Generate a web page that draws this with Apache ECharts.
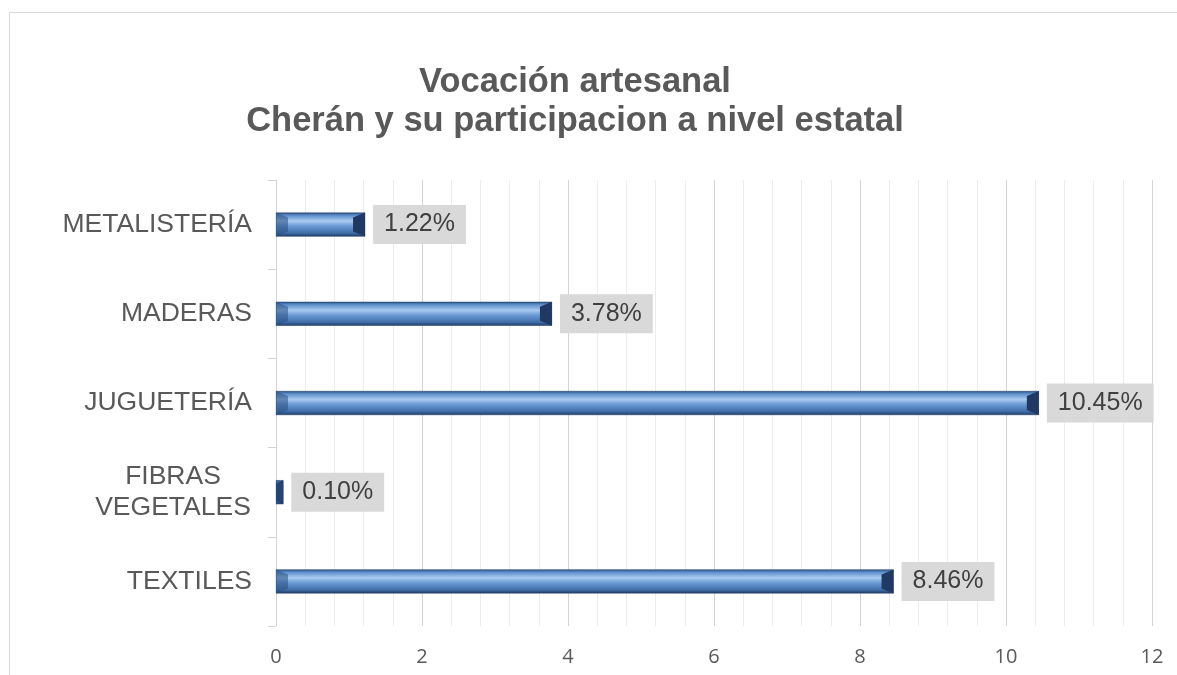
<!DOCTYPE html>
<html>
<head>
<meta charset="utf-8">
<script src="https://cdn.jsdelivr.net/npm/echarts@6/dist/echarts.min.js"></script>
<style>
  html, body { margin: 0; padding: 0; background: #fff; }
  #chart { width: 1177px; height: 675px; }
</style>
</head>
<body>
<div id="chart"></div>
<script>
// datos
var categories = ['TEXTILES', 'FIBRAS\nVEGETALES', 'JUGUETERÍA', 'MADERAS', 'METALISTERÍA'];
var values = [8.46, 0.10, 10.45, 3.78, 1.22];
var xTicks = [0, 2, 4, 6, 8, 10, 12];

var chart = echarts.init(document.getElementById('chart'));

var barFill = new echarts.graphic.LinearGradient(0, 0, 0, 1, [
  { offset: 0, color: '#2c5284' },
  { offset: 0.12, color: '#5f8fcb' },
  { offset: 0.35, color: '#a9cbf0' },
  { offset: 0.55, color: '#6d9bd6' },
  { offset: 0.85, color: '#3f6ea9' },
  { offset: 1, color: '#1f3b62' }
]);

var option = {
  animation: false,
  title: {
    text: 'Vocación artesanal\nCherán y su participacion a nivel estatal',
    left: 570,
    top: 58,
    textAlign: 'center',
    textStyle: {
      fontFamily: 'Liberation Sans',
      fontWeight: 'bold',
      fontSize: 34.5,
      lineHeight: 39,
      color: '#595959'
    }
  },
  graphic: [{
    type: 'rect',
    shape: { x: 9.5, y: 12.5, width: 1300, height: 800 },
    style: { fill: 'none', stroke: '#d9d9d9', lineWidth: 1 },
    silent: true
  }],
  grid: { left: 276, right: 25, top: 180, bottom: 49 },
  xAxis: {
    type: 'value',
    min: xTicks[0],
    max: xTicks[xTicks.length - 1],
    interval: 2,
    axisLine: { show: false },
    axisTick: { show: false },
    axisLabel: {
      margin: 21,
      fontFamily: 'Open Sans',
      fontSize: 20,
      color: '#595959'
    },
    splitLine: { show: true, lineStyle: { color: '#d4d4d4', width: 1 } },
    minorTick: { show: false, splitNumber: 5 },
    minorSplitLine: { show: true, lineStyle: { color: '#ececec', width: 1 } }
  },
  yAxis: {
    type: 'category',
    data: categories,
    axisLine: { show: true, lineStyle: { color: '#d4d4d4' } },
    axisTick: { show: true, length: 8, lineStyle: { color: '#d4d4d4' } },
    axisLabel: {
      margin: 24,
      fontFamily: 'Liberation Sans',
      fontSize: 26.5,
      color: '#595959',
      formatter: function (v) {
        if (v.indexOf('\n') >= 0) {
          return v.split('\n').map(function (s) { return '{c|' + s + '}'; }).join('\n');
        }
        return v;
      },
      rich: {
        c: { width: 158, align: 'center', fontSize: 26.5, lineHeight: 31, color: '#595959', fontFamily: 'Liberation Sans' }
      }
    }
  },
  series: [{
    type: 'bar',
    data: values,
    barWidth: 24,
    itemStyle: { color: barFill, borderColor: '#1f3864', borderWidth: 0.5 },
    label: {
      show: true,
      position: 'right',
      distance: 8,
      formatter: function (p) { return p.value.toFixed(2) + '%'; },
      backgroundColor: '#d9d9d9',
      padding: [8, 11, 6, 11],
      fontFamily: 'Liberation Sans',
      fontSize: 25,
      color: '#404040'
    },
    z: 2
  }, {
    // bisel del extremo derecho de cada barra
    type: 'custom',
    data: values.map(function (v, i) { return [v, i]; }),
    encode: { x: 0, y: 1 },
    z: 3,
    silent: true,
    renderItem: function (params, api) {
      var end = api.coord([api.value(0), api.value(1)]);
      var start = api.coord([0, api.value(1)]);
      var h = 24;
      var y0 = end[1] - h / 2, y1 = end[1] + h / 2;
      var len = Math.min(12, (end[0] - start[0]));
      var d = Math.min(5, len / 2);
      return {
        type: 'group',
        children: [{
          type: 'polygon',
          shape: { points: [[end[0] - len, y0 + d], [end[0], y0], [end[0], y1], [end[0] - len, y1 - d]] },
          style: { fill: '#1f3864' }
        }, {
          type: 'polygon',
          shape: { points: [[start[0], y0], [start[0] + len, y0 + d], [start[0] + len, y1 - d], [start[0], y1]] },
          style: { fill: 'rgba(40,80,130,0.55)' }
        }]
      };
    }
  }]
};

chart.setOption(option);
</script>
</body>
</html>
